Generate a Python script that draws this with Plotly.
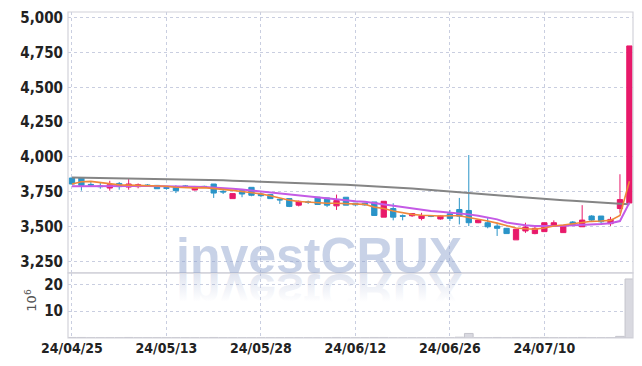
import plotly.graph_objects as go

dates = ["24/04/25","24/04/26","24/04/29","24/04/30","24/05/02","24/05/03","24/05/07","24/05/08","24/05/09","24/05/10",
         "24/05/13","24/05/14","24/05/16","24/05/17","24/05/20","24/05/21","24/05/22","24/05/23","24/05/24","24/05/27",
         "24/05/28","24/05/29","24/05/30","24/05/31","24/06/03","24/06/04","24/06/05","24/06/07","24/06/10","24/06/11",
         "24/06/12","24/06/13","24/06/14","24/06/17","24/06/18","24/06/19","24/06/20","24/06/21","24/06/24","24/06/25",
         "24/06/26","24/06/27","24/06/28","24/07/01","24/07/02","24/07/03","24/07/04","24/07/05","24/07/08","24/07/09",
         "24/07/10","24/07/11","24/07/12","24/07/15","24/07/16","24/07/17","24/07/18","24/07/19","24/07/22","24/07/23"]

open_ = [3849,3849,3803,3792,3777,3810,3784,3787,3799,3796,
         3780,3782,3792,3763,3789,3806,3753,3701,3758,3782,
         3734,3730,3696,3701,3654,3677,3711,3706,3649,3711,
         3668,3668,3677,3568,3630,3578,3578,3559,3577,3555,
         3592,3623,3616,3528,3528,3504,3488,3405,3469,3450,
         3464,3502,3457,3533,3499,3576,3576,3521,3630,3670]
high = [3852,3852,3820,3820,3829,3820,3844,3810,3806,3799,
        3787,3796,3799,3792,3794,3806,3765,3737,3758,3782,
        3746,3730,3701,3701,3687,3687,3711,3706,3730,3711,
        3670,3672,3677,3682,3668,3587,3594,3599,3580,3580,
        3620,3706,4014,3552,3568,3528,3490,3481,3528,3497,
        3528,3545,3510,3540,3654,3582,3576,3570,3876,4797]
low = [3803,3758,3786,3772,3758,3765,3765,3775,3787,3770,
       3765,3741,3777,3760,3780,3706,3734,3701,3711,3718,
       3711,3699,3663,3640,3645,3663,3659,3640,3620,3654,
       3650,3650,3578,3568,3545,3545,3570,3545,3568,3550,
       3540,3516,3504,3525,3488,3433,3450,3405,3455,3445,
       3464,3500,3455,3510,3499,3540,3520,3505,3599,3670]
close = [3806,3796,3799,3787,3801,3787,3806,3801,3794,3772,
         3775,3758,3789,3787,3787,3741,3749,3737,3734,3725,
         3722,3701,3692,3645,3682,3675,3659,3654,3687,3654,
         3656,3656,3580,3682,3568,3575,3594,3578,3575,3576,
         3559,3575,3528,3547,3499,3488,3450,3481,3497,3488,
         3528,3528,3504,3516,3547,3547,3535,3552,3694,4797]

ma5 = [3806,3822,3825,3815,3805,3800,3798,3797,3797,3795,
       3790,3783,3780,3778,3780,3775,3768,3760,3752,3745,
       3735,3722,3705,3690,3680,3675,3672,3668,3668,3665,
       3664,3660,3640,3630,3612,3600,3588,3582,3578,3576,
       3578,3578,3565,3555,3540,3525,3505,3490,3485,3482,
       3490,3505,3512,3520,3530,3538,3540,3545,3580,3826]
ma10 = [3789,3790,3791,3792,3792,3792,3792,3792,3791,3791,
        3790,3789,3787,3786,3785,3782,3778,3772,3766,3759,
        3752,3745,3738,3730,3722,3715,3709,3700,3694,3688,
        3682,3678,3668,3660,3650,3640,3630,3620,3612,3606,
        3601,3596,3588,3578,3565,3552,3530,3518,3510,3505,
        3503,3504,3506,3508,3511,3515,3519,3524,3540,3672]
ma_long = [3852,3851,3851,3850,3849,3848,3847,3846,3844,3843,
           3842,3840,3839,3837,3836,3834,3832,3830,3828,3826,
           3824,3822,3819,3817,3815,3812,3809,3806,3803,3800,
           3797,3794,3790,3786,3782,3778,3774,3769,3764,3760,
           3755,3750,3744,3738,3732,3726,3720,3714,3708,3702,
           3697,3693,3689,3685,3680,3676,3672,3668,3664,3661]

volume = [0.2,0.2,0.1,0.1,0.1,0.1,0.2,0.1,0.1,0.1,
          0.1,0.1,0.1,0.1,0.1,0.2,0.1,0.1,0.1,0.1,
          0.1,0.1,0.1,0.1,0.1,0.1,0.1,0.1,0.2,0.1,
          0.1,0.1,0.2,0.2,0.1,0.1,0.1,0.1,0.1,0.1,
          0.1,0.3,1.7,0.1,0.1,0.2,0.1,0.2,0.1,0.1,
          0.2,0.1,0.1,0.1,0.2,0.1,0.1,0.1,0.6,22.0]

price_ticks = [3250, 3500, 3750, 4000, 4250, 4500, 4750, 5000]
volume_ticks = [10, 20]
tick_dates = dates[::10]

RED = "#e8196a"
BLUE = "#2a94c8"
NARROW = "Liberation Sans Narrow, DejaVu Sans Condensed, Arial Narrow, sans-serif"

fig = go.Figure()

fig.add_trace(go.Bar(x=dates, y=volume, xaxis="x", yaxis="y",
                     marker=dict(color="#d9d9e0", line=dict(color="#c4c4cc", width=1)),
                     width=0.92, hoverinfo="skip", showlegend=False))

fig.add_trace(go.Scatter(x=dates, y=ma_long, yaxis="y2", mode="lines",
                         line=dict(color="#858585", width=2), showlegend=False, hoverinfo="skip"))
fig.add_trace(go.Scatter(x=dates, y=ma10, yaxis="y2", mode="lines",
                         line=dict(color="#c45ae6", width=2), showlegend=False, hoverinfo="skip"))
fig.add_trace(go.Scatter(x=dates, y=ma5, yaxis="y2", mode="lines",
                         line=dict(color="#f0883a", width=1.6), showlegend=False, hoverinfo="skip"))

fig.add_trace(go.Candlestick(x=dates, open=open_, high=high, low=low, close=close, yaxis="y2",
                             increasing=dict(line=dict(color=RED, width=1), fillcolor=RED),
                             decreasing=dict(line=dict(color=BLUE, width=1), fillcolor=BLUE),
                             whiskerwidth=0, showlegend=False))

grid = "#c9cee0"
fig.update_layout(
    width=642, height=366,
    margin=dict(l=68, r=9, t=9, b=28),
    paper_bgcolor="white", plot_bgcolor="white",
    showlegend=False,
    boxgap=0.2,
    xaxis=dict(type="category", range=[-0.42, 59.38], anchor="y",
               tickmode="array", tickvals=tick_dates, ticktext=tick_dates,
               showgrid=True, gridcolor=grid, griddash="dot", gridwidth=1,
               showline=False, zeroline=False, ticks="",
               tickfont=dict(family=NARROW, size=14, color="#222222", weight="bold"),
               rangeslider=dict(visible=False)),
    yaxis=dict(domain=[0, 0.2], range=[0, 24.3], tickvals=volume_ticks,
               showgrid=True, gridcolor=grid, griddash="dot", zeroline=False,
               showline=False, ticks="", ticklabelstandoff=4,
               tickfont=dict(family=NARROW, size=15, color="#222222", weight="bold")),
    yaxis2=dict(domain=[0.2, 1], range=[3168.6, 5040.5], anchor="x", tickvals=price_ticks,
                tickformat=",", showgrid=True, gridcolor=grid, griddash="dot", zeroline=False,
                showline=False, ticks="", ticklabelstandoff=4,
                tickfont=dict(family=NARROW, size=15, color="#222222", weight="bold")),
)

# panel borders
for y0, y1 in [(0, 0.2), (0.2, 1)]:
    fig.add_shape(type="rect", xref="paper", yref="paper", x0=0, x1=1, y0=y0, y1=y1,
                  line=dict(color="#d2d2da", width=1.2), fillcolor="rgba(0,0,0,0)", layer="above")

# watermark + reflection
wm = dict(xref="paper", yref="paper", x=0.4445, y=0.2, xanchor="center", yanchor="bottom",
          yshift=-13, showarrow=False,
          font=dict(family="Liberation Sans, Arial, sans-serif", size=50, weight="bold"))
fig.add_annotation(text="investCRUX", font_color="rgba(140,160,205,0.48)", **wm)
fig.add_annotation(text="investCRUX", font_color="rgba(140,160,205,0.3)", **wm)

fig.add_annotation(text="10<sup>6</sup>", xref="paper", yref="paper", x=-0.067, y=0.115,
                   xanchor="center", yanchor="middle", textangle=-90, showarrow=False,
                   font=dict(family="DejaVu Sans", size=13, color="#555555"))

post = """
(function(){
  var gd = document.getElementById('{plot_id}');
  function apply(){
    try {
      var t = gd.querySelector('g.annotation[data-index="1"] text.annotation-text');
      if(!t) return;
      var bb = t.getBBox();
      var base = bb.y + bb.height * (0.905/1.117);
      t.setAttribute('transform', 'translate(0,' + (2*base) + ') scale(1,-1)');
      var svg = t.ownerSVGElement;
      if(!document.getElementById('wmfade')){
        var ns = 'http://www.w3.org/2000/svg';
        var defs = document.createElementNS(ns, 'defs');
        var lg = document.createElementNS(ns, 'linearGradient');
        lg.setAttribute('id', 'wmfade');
        lg.setAttribute('x1', '0'); lg.setAttribute('y1', '0');
        lg.setAttribute('x2', '0'); lg.setAttribute('y2', '1');
        [[0.3, 0.0], [0.81, 0.3]].forEach(function(s){
          var st = document.createElementNS(ns, 'stop');
          st.setAttribute('offset', s[0]);
          st.setAttribute('stop-color', 'rgb(150,165,205)');
          st.setAttribute('stop-opacity', s[1]);
          lg.appendChild(st);
        });
        defs.appendChild(lg);
        svg.insertBefore(defs, svg.firstChild);
      }
      t.style.fill = 'url(#wmfade)';
      t.style.fillOpacity = '1';
    } catch(e) {}
  }
  apply();
  if (gd && gd.on) gd.on('plotly_afterplot', apply);
})();
"""

fig.write_html("out.html", post_script=post)
